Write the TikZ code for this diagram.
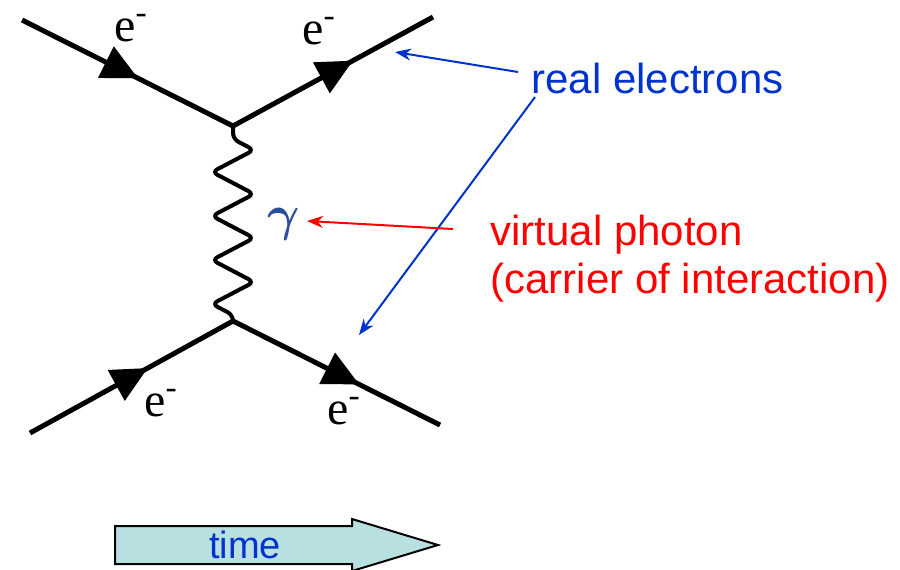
\documentclass[tikz,border=0pt]{standalone}
\usepackage{fontspec}
\setmainfont{Liberation Sans}
\newfontfamily\elecfont{Liberation Serif}
\usetikzlibrary{arrows.meta,decorations.pathmorphing,decorations.markings}
\definecolor{labelblue}{HTML}{0033CC}
\definecolor{labelred}{HTML}{FF0000}
\definecolor{timefill}{HTML}{B9E0E0}
\definecolor{gammablue}{HTML}{2A4E9C}

\begin{document}
\begin{tikzpicture}[
    x=0.5pt,y=-0.5pt,
    fermion/.style={line width=2.5pt,postaction={decorate},
      decoration={markings,mark=at position #1 with
        {\arrow{Triangle[length=18pt,width=17pt]}}}},
    photon/.style={line width=2pt,rounded corners=3pt,decorate,
      decoration={zigzag,segment length=22pt,amplitude=10.5pt,
        pre length=6.5pt,post length=3pt}},
    elabel/.style={font=\elecfont\fontsize{24}{26}\selectfont,inner sep=0pt},
    callout/.style={font=\fontsize{21}{24}\selectfont,inner sep=0pt,anchor=base west},
    pointer/.style={-{Stealth[length=8pt,width=6pt]},line width=1pt}
  ]
    \useasboundingbox (0,0) rectangle (900,569);

    % vertices and external legs
    \coordinate (vtop) at (233,126);
    \coordinate (vbot) at (233,321);
    \coordinate (einA) at (22,20);
    \coordinate (eoutA) at (433,17);
    \coordinate (einB) at (30,433);
    \coordinate (eoutB) at (440,425);

    \draw[fermion=0.55] (einA) -- (vtop);
    \draw[fermion=0.6] (vtop) -- (eoutA);
    \draw[fermion=0.58] (einB) -- (vbot);
    \draw[fermion=0.61] (vbot) -- (eoutB);
    \draw[photon] (vtop) -- (vbot);

    \node[elabel] (eA) at (131,28) {e\textsuperscript{-}};
    \node[elabel] (eB) at (319,31) {e\textsuperscript{-}};
    \node[elabel] (eC) at (161,403) {e\textsuperscript{-}};
    \node[elabel] (eD) at (344,411) {e\textsuperscript{-}};
    \node[font=\fontsize{26}{28}\selectfont\boldmath,text=gammablue,inner sep=4pt]
      (gam) at (284,224) {$\gamma$};

    % labels
    \node[callout,text=labelblue] (reallbl) at (531,93) {real electrons};
    \node[callout,text=labelred,align=left] (virtlbl) at (490,293)
      {virtual photon\\(carrier of interaction)};

    \coordinate (tipA) at (395,52);
    \coordinate (tailA) at (518,72);
    \coordinate (tipB) at (359,335);
    \coordinate (tailB) at (535,97);
    \coordinate (tailC) at (453,229);
    \coordinate (tipC) at (307,221);
    \draw[pointer,labelblue] (tailA) -- (tipA);
    \draw[pointer,labelblue] (tailB) -- (tipB);
    \draw[pointer,labelred] (tailC) -- (tipC);

    % time arrow
    \draw[line width=1pt,fill=timefill] (115,526) -- (352,526) -- (352,519)
      -- (438,545) -- (352,571) -- (352,564) -- (115,564) -- cycle;
    \node[font=\fontsize{19}{20}\selectfont,text=labelblue] (timelbl) at (245,545) {time};
  \end{tikzpicture}
\end{document}
